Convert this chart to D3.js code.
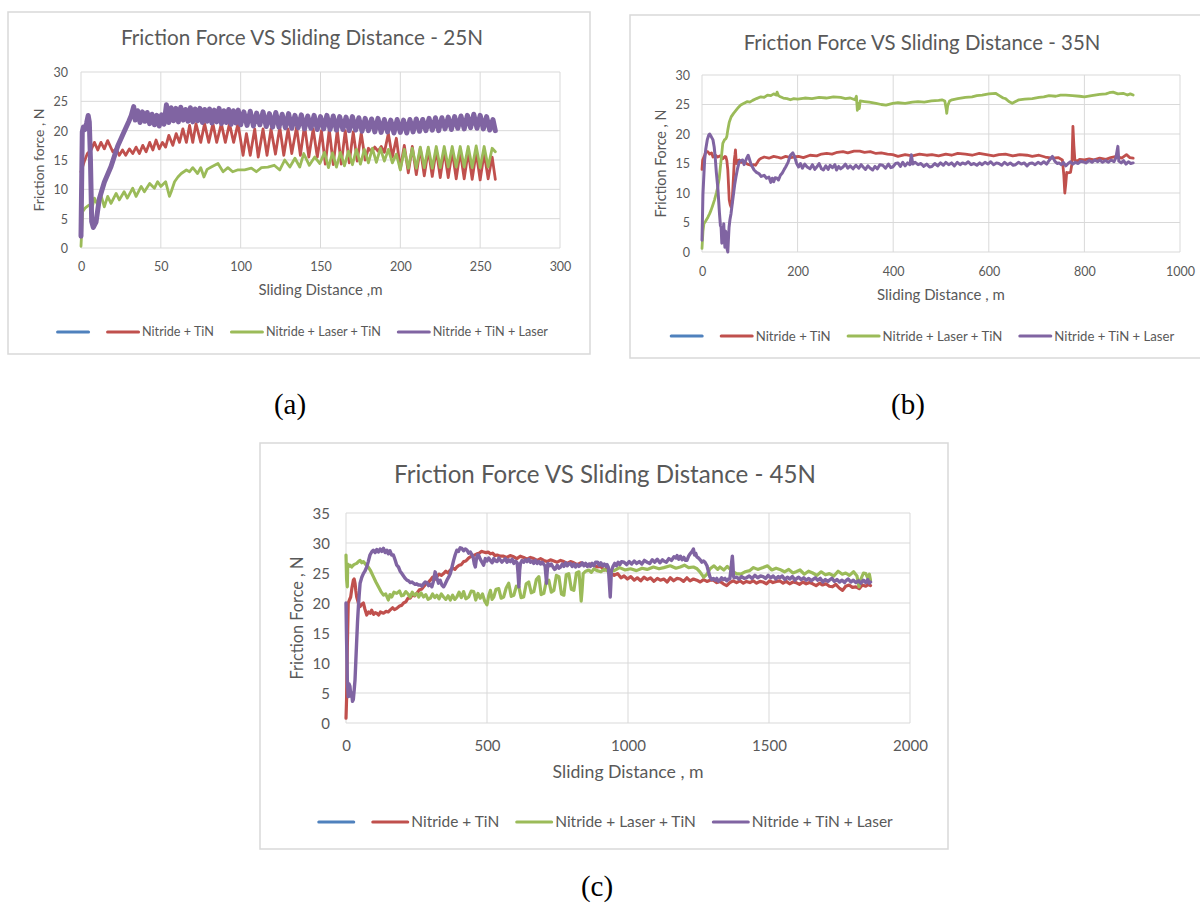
<!DOCTYPE html>
<html><head><meta charset="utf-8">
<script src="https://cdn.jsdelivr.net/npm/d3@7/dist/d3.min.js"></script>
<style>body{margin:0;background:#fff;}svg{display:block;}</style>
</head><body>
<svg id="chart" width="1200" height="906"></svg>
<script>
// ---------------- DATA ----------------
const seriesNames = ["", "Nitride + TiN", "Nitride + Laser + TiN", "Nitride + TiN + Laser"];

const aTitle = "Friction Force VS Sliding Distance - 25N";
const bTitle = "Friction Force VS Sliding Distance - 35N";
const cTitle = "Friction Force VS Sliding Distance - 45N";
const aXTitle = "Sliding Distance ,m", bXTitle = "Sliding Distance , m", cXTitle = "Sliding Distance , m";
const aYTitle = "Friction force , N", bYTitle = "Friction Force , N", cYTitle = "Friction Force , N";
const subLabels = ["(a)", "(b)", "(c)"];

const aXTicks = [0, 50, 100, 150, 200, 250, 300];
const aYTicks = [0, 5, 10, 15, 20, 25, 30];
const bXTicks = [0, 200, 400, 600, 800, 1000];
const bYTicks = [0, 5, 10, 15, 20, 25, 30];
const cXTicks = [0, 500, 1000, 1500, 2000];
const cYTicks = [0, 5, 10, 15, 20, 25, 30, 35];

// Panel (a) 25N
const aRed = [[0,13],[2,14.7],[4,16.1],[6.3,16.7],[8.4,18],[10.5,16.7],[12.5,18],[14.6,16.9],[16.7,18.3],[19.9,16.4],[22,16.9],[24,15.8],[26,16.7],[28,15.8],[30.3,16.9],[32.4,16.1],[34.5,17.2],[36.6,16.1],[38.7,17.5],[40.8,16.4],[43,18],[45,16.7],[47,18.4],[49,16.9],[51,18],[53,17.2],[55,19.2],[57.5,17.5],[59.6,19.5],[61.7,18],[63.8,20.3],[66,18],[68,20.9],[70,18],[72,21.2],[75,18],[77.4,21.2],[80,18],[82.6,21.2],[85,18],[87.9,21.2],[90.4,18],[93,21.2],[95.6,18],[98.3,21.2],[101.5,15.8],[103.6,19.5],[106,15.8],[108.8,20.3],[111,15.5],[114,20.3],[116.5,15.8],[119,20.3],[121.8,16],[124.5,20.6],[127,15.8],[129.7,20.3],[132,16.1],[135,20.6],[137.4,15.8],[140,20.9],[142.7,15.5],[145.4,20.3],[148,15.5],[150.6,20],[153,14.3],[155.5,20.2],[158,14.2],[160.5,20.1],[163,14.3],[165.5,20],[168,14.5],[170.5,19.8],[173,14.8],[175.5,19.6],[178,15],[180,17],[182,16.4],[184,17.2],[186,16.5],[188,17.3],[190,16.3],[192.5,19.5],[195,15.5],[197.5,18.7],[200,13.5],[202.5,17.5],[205,12.8],[207.5,17.3],[210,12.5],[212.5,17],[215,12.3],[217.5,16.8],[220,12.2],[222.5,16.8],[225,12],[227.5,16.6],[230,12],[232.5,16.5],[235,11.8],[237.5,16.5],[240,11.8],[242.5,16.4],[245,11.7],[247.5,16.3],[250,11.6],[252.5,16.2],[255,11.8],[257.5,15.5],[259.5,11.7]];
const aGreen = [[0,0.3],[1,6.2],[2.5,6.8],[5,7.3],[7,6.9],[8.4,8.5],[10.5,7.3],[12.5,9],[14.6,7],[16.7,8.8],[18.8,7.6],[22,9.3],[24,8.2],[27,9.6],[29,8.5],[32.4,10.2],[34.5,8.8],[37.7,10.5],[39.7,9.6],[43,11],[46,10.2],[48,11.3],[50,10.5],[53,11.3],[55.4,8.8],[56.5,9.6],[58.6,11.3],[60.7,12.1],[62.8,12.7],[66,13.3],[68,13],[70,13.7],[73,12.7],[75,13.7],[77,12.1],[79,13.4],[81.6,13.8],[85.8,14.4],[89,13],[92,13.7],[95,13],[98,13.3],[102.5,13.3],[106.7,13.6],[109.8,13],[113,13.7],[117,13.8],[121,14.1],[124.5,13.3],[127.6,15],[130.8,13.8],[134,15.3],[137,13.8],[139.5,16.1],[143,14.1],[146.4,15.5],[149.6,14.4],[152.5,16.3],[155,13.7],[157.5,16.2],[160,13.8],[162.5,16.3],[165,14],[167.5,16.5],[170,14.2],[172.5,16.8],[175,14.3],[177.5,16.8],[180,14.5],[182.5,17],[185,14.6],[187.5,17],[190,14.8],[192.5,16.8],[195,14.5],[197.5,16],[200,13.3],[202.5,16.8],[205,13.6],[207.5,17],[210,13.6],[212.5,17.2],[215,13.7],[217.5,17.2],[220,13.6],[222.5,17.3],[225,13.7],[227.5,17.3],[230,13.8],[232.5,17.3],[235,13.8],[237.5,17.3],[240,13.8],[242.5,17.3],[245,13.7],[247.5,17.4],[250,13.7],[252.5,17.3],[255,13.8],[257.5,17],[259.5,16.4]];
const aPurple = [[0,2],[0.8,19.8],[1.5,20.6],[2.5,20.2],[3.5,21.3],[4.5,22.6],[5.2,21.5],[5.9,15.3],[6.7,4.5],[7.7,3.5],[9.4,4.4],[11.5,8.4],[14.6,11.2],[18.8,13.9],[23,17.4],[27,19.8],[30,21.6],[31.5,22.6],[33,24.1],[34,21.8],[35.5,23.4],[37,21.4],[38.5,23.2],[40,21.6],[41.5,23.1],[43,21.2],[44.5,22.8],[46,21.0],[47.5,22.6],[49,20.8],[50.5,22.7],[52,21.1],[53.5,24.4],[55,21.4],[56.5,23.9],[58,21.7],[59.5,23.8],[61,21.5],[62.5,24.0],[64,21.8],[65.5,23.6],[67,21.6],[68.5,23.9],[70,21.5],[71.5,23.7],[73,21.7],[74.5,23.8],[76,21.4],[77.5,23.6],[79,21.6],[80.5,23.7],[82,21.3],[83.5,23.5],[85,21.5],[86.5,23.8],[88,21.2],[89.5,23.4],[91,21.4],[92.5,23.6],[94,21.1],[95.5,23.4],[97,21.3],[98.5,23.5],[100,21.0],[102,23.2],[104,20.9],[106,23.3],[108,20.8],[110,23.0],[112,21.0],[114,23.2],[116,20.7],[118,22.9],[120,20.6],[122,23.1],[124,20.6],[126,22.8],[128,20.5],[130,22.9],[132,20.4],[134,22.6],[136,20.5],[138,22.7],[140,20.3],[142,22.5],[144,20.4],[146,22.6],[148,20.2],[150,22.4],[152,20.3],[154,22.6],[156,20.2],[158,22.5],[160,20.1],[162,22.4],[164,20.2],[166,22.3],[168,20.0],[170,22.4],[172,20.1],[174,22.2],[176,19.9],[178,22.1],[180,20.0],[182,22.0],[184,19.8],[186,22.1],[188,19.7],[190,21.9],[192,19.8],[194,21.8],[196,19.6],[198,21.9],[200,19.7],[202,21.8],[204,19.6],[206,21.9],[208,19.8],[210,22.0],[212,19.9],[214,21.9],[216,20.0],[218,22.1],[220,20.1],[222,22.2],[224,20.0],[226,22.2],[228,20.3],[230,22.3],[232,20.2],[234,22.4],[236,20.4],[238,22.5],[240,20.3],[242,22.6],[244,20.5],[246,22.8],[248,20.4],[250,22.6],[252,20.3],[254,22.4],[256,20.1],[258,21.9],[259.5,20.0]];

// Panel (b) 35N
const bRed = [[0,14],[1.4,15.6],[5.5,16.4],[8,17],[12,17],[16,16.6],[20,16.8],[23,16.1],[28,16.4],[33,16.1],[38,16.3],[43.5,15.8],[48,16.2],[50,16.1],[52,15.5],[54,13.9],[56,10.5],[57,8.8],[59,8],[61,7.6],[63,8.5],[64,9.9],[66,13],[67.6,15.6],[69,16.5],[70,17.3],[71,16],[72,15],[75,15.5],[78,15.6],[82,15.2],[88,15.3],[95,14.9],[102,14.7],[108,14.8],[112,14.7],[116,15.2],[119,15.6],[124,15.9],[130,16.1],[140,15.9],[150,16.2],[157,16.1],[165,15.9],[175,16.2],[185,16],[192,16.1],[202,16.2],[212,16],[226,16.4],[240,16.3],[250,16.6],[261,16.7],[272,16.6],[283,16.9],[295,17],[305,16.8],[318,17.1],[330,17.1],[340,16.9],[352,17],[364,16.7],[375,16.8],[388,16.6],[399,16.5],[410,16.2],[425,16.5],[440,16.3],[455,16.6],[470,16.4],[481,16.5],[495,16.3],[510,16.6],[522,16.4],[535,16.7],[551,16.6],[565,16.4],[580,16.7],[595,16.5],[610,16.3],[621,16.5],[635,16.6],[650,16.3],[665,16.5],[680,16.4],[691,16.2],[705,16.4],[718,16.1],[733,15.9],[745,16],[754,15.6],[757,13],[759,10],[761,11.5],[763,13.5],[765,13.4],[771,13.5],[774,15],[776,21.3],[778,18],[780,15.6],[785,15.4],[790,15.7],[800,15.6],[810,15.8],[820,15.6],[832,15.9],[845,15.7],[855,16],[867,16.2],[878,15.9],[888,16.5],[895,16],[902,15.9]];
const bGreen = [[0,0.6],[2,3.5],[4,4.8],[8,5.3],[12.4,5.9],[16,6.5],[19,7.1],[22,7.8],[26,8.8],[30,10],[33,11],[36,12.5],[40,15.6],[43.5,18.4],[47,19],[50,19.2],[52,19.6],[54,20.7],[57,22],[61,22.9],[66,23.5],[71,24],[76,24.5],[81,24.9],[88,25.2],[95,25.5],[100,25.4],[106,25.7],[114,26],[123,26.3],[130,26.2],[137,26.6],[144,26.5],[150,26.8],[155,26.6],[157,27.1],[160,26.5],[164,26.3],[170,26.1],[178,26],[185,25.8],[192,26],[200,25.9],[215,26.1],[230,26],[245,26.2],[260,26.1],[275,26.3],[290,26.2],[300,26],[310,26.1],[320,25.8],[323,26.4],[325,24],[327,25.2],[329,24.3],[331,25.6],[340,25.5],[350,25.4],[364,25.2],[375,25],[385,24.9],[399,25.2],[410,25.3],[425,25.2],[440,25.4],[452,25.5],[465,25.4],[480,25.6],[495,25.7],[502,25.8],[508,25.6],[511,24.2],[512,23.5],[514,24.8],[518,25.6],[523,25.8],[535,26],[551,26.2],[565,26.3],[575,26.5],[586,26.6],[600,26.8],[614,26.9],[622,26.5],[630,26.1],[635,26],[642,25.5],[649,25.2],[656,25.5],[663,25.8],[675,25.9],[691,26],[705,26.2],[715,26.3],[726,26.5],[740,26.4],[750,26.6],[761,26.6],[775,26.5],[790,26.4],[800,26.3],[815,26.5],[832,26.7],[845,26.8],[852,27],[860,27.1],[870,26.8],[881,26.9],[890,26.6],[896,26.8],[902,26.6]];
const bPurple = [[0,2],[2,9.9],[5.5,15.6],[8,17.5],[11,19],[14,19.8],[16,20],[19,19.6],[23,19],[25.5,17.8],[27.6,16.1],[30,13.5],[33,11],[35,8.5],[36.6,6.5],[38.5,4.5],[40,4.2],[41.5,1.5],[43.5,2],[45.5,4.8],[47,1.8],[48,0.8],[49.5,3.5],[51,3.1],[52.5,0.5],[54,0],[55.5,2.5],[56.6,4.2],[58.5,5.5],[60.7,6.5],[63,8],[66,9.9],[68.5,11.5],[71,12.7],[74,14],[78,15.3],[82,15.5],[85,15.6],[88,14.8],[92,15.6],[94,16],[96.6,16.4],[99,15.8],[102,15],[105,14.5],[109,13.9],[114,13.5],[119,13.3],[124,12.8],[130,13],[135,12.5],[140,12.7],[144,11.8],[147,12.5],[150,11.9],[153,12.6],[157,12.5],[160,12.2],[164,13],[168,13.4],[172,14],[175,14.4],[180,15.2],[185,16.4],[190,16.8],[193,16.3],[195,15.8],[198,15],[202,14.4],[206,15],[210,14.2],[215,14.9],[220,14.4],[226,14.1],[231,14.8],[236,14],[240,14.4],[245,15],[250,14.1],[254,13.9],[259,14.6],[264,14],[268,14.7],[273,14.3],[278,14.8],[281.5,13.9],[286,14.5],[290,14.1],[295,14.4],[300,14.9],[305,14.2],[310,14.6],[316,14.1],[322,14.7],[328,14.2],[333,14.8],[337,14.4],[342,14],[347,14.6],[352,14.2],[357,13.9],[362,14.5],[367,14.1],[372,14.8],[378,14.7],[384,14.2],[390,14.9],[395,14.3],[399,14.4],[405,15],[410,15.1],[415,14.5],[420,15.2],[425,14.6],[430,15.1],[435,14.8],[438,16.5],[441,14.9],[446,15.2],[452,14.8],[458,15],[464,14.5],[470,14.9],[476,14.4],[481,14.5],[487,15],[493,14.6],[499,15.1],[505,14.7],[510,15.2],[516,14.8],[522,15.1],[528,14.6],[534,15.2],[540,14.8],[545,15.1],[551,14.9],[557,15.3],[563,14.8],[569,15],[575,14.7],[581,15.1],[586,14.8],[592,15.2],[598,14.9],[604,15.3],[610,14.8],[616,15.1],[621,15],[627,14.7],[633,15.2],[639,14.8],[645,15.1],[651,14.7],[656,14.8],[662,15.2],[668,14.9],[674,15.1],[680,14.6],[685,15],[691,15.1],[697,14.8],[703,15.2],[709,14.9],[715,15.3],[721,14.9],[727,15.6],[733,16.2],[738,15.4],[743,15],[747,15.1],[752,14.8],[756,15.2],[761,14.6],[766,15],[771,15.3],[776,14.9],[781,15.2],[787,15],[792,15.4],[797,15.3],[803,15.1],[810,15.5],[816,15.2],[822,15.6],[828,15.3],[832,15.6],[838,15.2],[844,15.5],[850,15.2],[856,15.6],[862,15.3],[866,16],[870,17.9],[872,15.4],[877,15.1],[882,15.5],[887,14.9],[892,15.3],[897,15],[902,15.1]];

// Panel (c) 45N
const cRed = [[0,0.8],[2,3.9],[4.7,12.7],[8,20],[12,20.5],[16.6,21],[21,22.5],[26,23.8],[29,24],[32,23.3],[35,22],[38,21],[44,20],[50,19.4],[56,19.8],[61.6,20],[67,19],[73.5,18],[80,18.5],[86,18.3],[91,18.8],[98,18.1],[104,18.4],[109,18.3],[116,18],[122,18.5],[133,18.3],[142,18.6],[150,18.5],[156,18.8],[165,19.2],[172,18.9],[180,19.1],[190,19.5],[197,19.6],[204,20],[212,20.2],[220,20.8],[227.5,20.8],[236,21.4],[243,21.2],[251,21.6],[260,22.2],[268,22.3],[275,22.7],[284,23.2],[291,23.4],[299,23.8],[307,24.3],[314,23.9],[322,24.4],[330,24.8],[338,24.6],[346,24.9],[354,25.3],[362,25],[370,25.5],[378,25.8],[386,25.6],[393,26],[401,26.3],[409,26.4],[417,26.9],[425,27],[433,27.4],[441,27.7],[449,27.9],[457,28],[464.5,28.2],[472,28.3],[480,28.6],[488,28.5],[496,28.4],[504,28.5],[512,28.2],[520,28.3],[528,27.9],[536,28],[547,27.8],[559,27.8],[570,27.6],[582,27.9],[595,27.7],[606,27.4],[618,27.8],[630,27.6],[642,27.3],[654,27.6],[666,27.4],[678,27.1],[690,27.4],[701.5,27.1],[713,26.9],[725,27.2],[737,27],[749,26.8],[761,27.1],[772.6,26.9],[784,26.6],[796,26.9],[808,26.7],[820,26.4],[832,26.7],[844,26.5],[856,26.2],[867,26.5],[879,26.3],[891,26],[903,26.1],[915,25.5],[927,25.8],[939,25],[951,24.6],[963,24.9],[975,24.2],[986,24.5],[998,24],[1010,24.4],[1022,23.8],[1033,24.2],[1045,23.7],[1057,24.3],[1068,23.9],[1080,24.2],[1092,23.6],[1104,24.1],[1115,23.8],[1127,24],[1139,23.5],[1150,24.2],[1162,23.7],[1174,24.1],[1185,24],[1197,23.6],[1209,24.2],[1220,23.7],[1232,24],[1244,23.8],[1256,23.5],[1268,23.9],[1280,23.6],[1291,23.8],[1303,23.8],[1315,23.4],[1326,23.6],[1338,23.2],[1350,22.9],[1361,23.4],[1373,23.7],[1385,23.4],[1397,23.7],[1409,23.3],[1420,23.6],[1432,23.4],[1444,23.7],[1456,23.3],[1468,23.6],[1479,23.5],[1491,23.2],[1503,23.7],[1514,23.4],[1526,23.6],[1538,23.7],[1550,23.3],[1561,23.6],[1573,23.2],[1585,23.5],[1596,23.4],[1608,23.1],[1620,23.5],[1632,23.2],[1644,23.4],[1655,23.2],[1667,22.9],[1679,23.3],[1690,23],[1702,23.2],[1714,22.8],[1725,22.7],[1737,23.1],[1749,22.5],[1761,22.1],[1772,22.8],[1784,23],[1796,22.6],[1808,22.7],[1820,22.4],[1831,23],[1843,22.8],[1852,23.1],[1860,22.9]];
const cGreen = [[0,28],[2,24],[4.7,22.7],[6,26.5],[8,26],[14,26.3],[20,26],[28,26.4],[38,26.6],[44,26.9],[50,27.1],[56,26.7],[61.6,26.9],[70,26.4],[79,26],[88,25.3],[97,24.4],[106,23.5],[115,22.7],[124,21.9],[133,21.3],[141,21.5],[150,20.5],[156,21.4],[162,21],[170,21.8],[180,21.6],[190,22],[197,21.2],[204,21.3],[212,21.9],[220,21.5],[227.5,21],[235,21.8],[243,21.3],[251,21.6],[258,21],[266,21.7],[275,21],[283,21.4],[291,20.6],[299,20.8],[307,21.5],[315,20.9],[322,21.3],[330,20.7],[338,21.5],[346,21],[354,20.6],[362,21.2],[370,20.5],[378,21.3],[386,20.6],[393,21],[401,21.8],[409,20.9],[417,21.9],[425,20.7],[435,21],[444,22],[453,21.9],[460,20.5],[468,21.6],[476,20.8],[484,21.5],[492,20.3],[500,19.7],[506,21.2],[512,22.1],[518,20.6],[524,21],[532,22.3],[541.5,22.4],[550,20.8],[559,21],[568,22.5],[577,23.3],[586,21.1],[595,21.3],[604,22.8],[613,22.7],[621,20.9],[630,21],[639,23.2],[648,23.5],[657,21.7],[666,21.9],[675,23.9],[684,24.4],[692,21.4],[701.5,21.6],[710,23.6],[719,23.8],[728,21.8],[737,22.1],[746,24.6],[755,24.4],[764,21.5],[772.6,21.3],[781,24.7],[790,24.9],[799,22.3],[808,22.1],[817,25],[826,25.2],[830,23],[834,20.3],[837,22],[841,24.9],[850,25.3],[861,25.5],[870,25.1],[879,25.7],[890,25.4],[904,25.2],[915,25.6],[930,25.3],[951,25.4],[970,25.9],[990,25.5],[1009,25.7],[1030,25.4],[1050,25.8],[1068,25.6],[1090,26],[1110,25.7],[1127,25.9],[1150,26.2],[1170,25.8],[1185,26],[1200,26.3],[1215,25.9],[1232,26],[1245,25.7],[1255,25.2],[1268,24.3],[1280,24.8],[1291,25.7],[1305,26.2],[1318,25.6],[1326,26],[1340,25.5],[1352,26.1],[1361,25.7],[1372,25.2],[1385,24.9],[1400,24.8],[1415,25.2],[1432,25.4],[1445,25.9],[1460,25.6],[1479,25.9],[1495,26.2],[1510,25.5],[1525,25.8],[1538,25.6],[1555,25.2],[1570,25.6],[1585,25],[1596,25.2],[1610,25.5],[1625,24.8],[1640,25.3],[1655,25],[1670,24.6],[1685,25.2],[1700,24.7],[1714,24.9],[1730,24.5],[1745,25.3],[1760,24.8],[1772,25],[1785,24.6],[1800,25.2],[1812,24.5],[1819,22.7],[1826,24],[1835,25],[1843,24.9],[1850,24.2],[1856,24.8],[1860,23.8]];
const cPurple = [[0,20],[2,14],[4.7,7.2],[8,4.4],[11,6.5],[14,6.1],[17,4.5],[20,5],[23,3.6],[26,3.9],[29,5.5],[32,7.2],[35,10.5],[38,13.8],[41,17],[44,19.4],[47,21.5],[50,23.3],[56,24.3],[61.6,24.9],[67,25.3],[73.5,26],[79,26.9],[85,28],[91,28.5],[97,28.8],[103,28.4],[109,28.9],[115,28.5],[121,29],[127,28.6],[133,29.1],[139,28.4],[145,28.8],[150,28.2],[156,28.7],[162,28],[168,28],[174,27.2],[180,26.3],[186,26],[192,25.3],[198,24.9],[204,24.5],[210,24.1],[216,23.8],[222,23.7],[228,23.4],[234,23.5],[239,23.3],[245,23.1],[251,23.2],[257,23],[263,23],[269,22.8],[275,23.2],[281,23.5],[287,23.4],[293,22.9],[299,23.1],[304.5,22.7],[310,23.6],[316,25.2],[322,24.2],[328,23.3],[334,23.8],[340,23],[346,22.7],[352,23.2],[358,23.8],[364,24.3],[370,24.9],[376,26],[381.6,27.1],[387,28],[393,28.8],[399,28.6],[405,29.2],[411,29.1],[417,28.7],[423,29],[429,28.8],[435,28.3],[441,28.5],[447,28],[451,27.6],[455,26.5],[458.6,26],[462,27.2],[466,28],[470,28],[476,27.3],[482,26.8],[488,26.3],[494,27.4],[500,27],[506,27.5],[512,27.1],[518,26.7],[524,27.4],[530,27],[536,26.9],[542,27.5],[548,27.1],[553,26.8],[559,27.1],[565,27.4],[571,26.8],[577,27.2],[583,26.9],[589,27.3],[595,26.6],[601,27],[607,26.7],[610,25],[613,22.7],[616,25.5],[618.6,26.6],[624,27.1],[630,26.8],[636,27.2],[642,26.9],[648,27.3],[654,26.8],[660,27],[666,26.6],[672,27.1],[678,26.6],[684,26.9],[690,26.5],[696,26.8],[702,26.4],[706,26.2],[709,24.5],[711,23.3],[713,25],[716,26.6],[722,26.2],[728,26.5],[734,26],[740,25.6],[743,25.7],[749,26.3],[755,25.8],[761,26],[767,26.5],[773,26.1],[779,26.7],[785,26.2],[791,26.6],[796,26.6],[802,26.1],[808,26.5],[814,26],[820,26.4],[826,26.1],[832,26.3],[838,26.7],[844,26.2],[850,26.6],[856,26.1],[862,26.5],[867,26.1],[873,26.6],[879,26.2],[885,26.8],[892,26.8],[898,26.3],[904,26.7],[910,26.2],[916,26.5],[922,26.1],[926,26.4],[930,26],[933,24],[935,22.5],[937,21],[939,23],[941,25.4],[947,26.1],[953,26.6],[959,26.2],[965,26.8],[971,26.4],[977,26.9],[986,26.8],[995,26.4],[1004,26.9],[1013,26.5],[1022,27],[1031,26.6],[1040,26.9],[1049,26.5],[1058,27.1],[1068,26.8],[1077,26.6],[1086,27.2],[1095,26.8],[1104,27.3],[1113,26.7],[1122,27.2],[1127,27],[1136,26.8],[1145,27.4],[1154,27.1],[1163,27.7],[1170,27.5],[1174,27.9],[1180,27.3],[1186,27.8],[1192,27.2],[1198,27.6],[1204,27.1],[1209,27.1],[1215,27.8],[1220,28.2],[1226,28.5],[1232,29],[1236,28],[1240,28.3],[1244,27.7],[1250,27.5],[1256,27.2],[1262,26.8],[1268,27],[1273,26.8],[1280,26.2],[1285,25.3],[1291,24.3],[1297,23.9],[1303,24.1],[1309,23.8],[1315,24.1],[1320,23.6],[1326,23.8],[1332,24.2],[1338,23.9],[1344,24.1],[1350,23.7],[1356,24],[1361,24],[1365,25.5],[1368,27],[1370,27.8],[1372,26.5],[1374,24.5],[1376,24.2],[1385,24.3],[1394,24],[1403,24.4],[1412,24.1],[1420,24.2],[1430,24.5],[1440,24.1],[1450,24.6],[1460,24.2],[1470,24.5],[1479,24.4],[1488,24.1],[1497,24.6],[1506,24.2],[1515,24.5],[1524,24],[1533,24.4],[1538,24.2],[1547,24.5],[1556,23.9],[1565,24.3],[1574,24],[1583,24.4],[1592,23.8],[1596,24],[1605,24.3],[1614,23.9],[1623,24.2],[1632,23.8],[1641,24.1],[1650,23.7],[1655,23.9],[1664,24.2],[1673,23.8],[1682,24.1],[1691,23.5],[1700,23.9],[1709,23.6],[1714,23.8],[1723,24.1],[1732,23.6],[1741,23.9],[1750,23.5],[1759,23.8],[1768,23.4],[1772,23.7],[1781,24],[1790,23.5],[1799,23.8],[1808,23.4],[1817,23.7],[1826,23.3],[1835,23.8],[1843,23.4],[1850,23.9],[1855,23.3],[1860,23.5]];

// ---------------- STYLE / LAYOUT ----------------
const colors = ["#4F81BD", "#C0504D", "#9BBB59", "#8064A2"];
const FONT = "Lato, 'Open Sans', sans-serif";
const TEXT = "#595959";
const GRID = "#d9d9d9";

const svg = d3.select("#chart");
svg.append("rect").attr("width", 1200).attr("height", 906).attr("fill", "#fff");

const measurer = svg.append("text").attr("font-family", FONT).attr("x", -1000).attr("y", -1000);
function fit(text, target) {
  measurer.text(text).attr("font-size", 100);
  const w = measurer.node().getComputedTextLength();
  return 100 * target / w;
}

const panels = [
  { frame: [8, 12, 582, 342], plot: { l: 81, r: 560, t: 72, b: 248 }, xd: [0, 300], yd: [0, 30],
    xt: aXTicks, yt: aYTicks, title: aTitle, xTitle: aXTitle, yTitle: aYTitle,
    series: [[], aRed, aGreen, aPurple], widths: [3, 2.8, 2.8, 5],
    cx: 302, titleY: 45, titleW: 362, tickFs: 12.5, tickLabelY: 271, yTickX: 68,
    xTitleY: 295, xTitleW: 124, yTitleX: 39, yTitleW: 103, legY: 332, legW: 72, legLine: 34,
    sub: subLabels[0], subX: 290, subY: 414 },
  { frame: [630, 15, 580, 343], plot: { l: 702, r: 1180, t: 75, b: 252 }, xd: [0, 1000], yd: [0, 30],
    xt: bXTicks, yt: bYTicks, title: bTitle, xTitle: bXTitle, yTitle: bYTitle,
    series: [[], bRed, bGreen, bPurple], widths: [3, 2.8, 2.8, 3],
    cx: 922, titleY: 50, titleW: 357, tickFs: 12.5, tickLabelY: 276, yTickX: 690,
    xTitleY: 300, xTitleW: 128, yTitleX: 661, yTitleW: 108, legY: 336, legW: 75, legLine: 34,
    sub: subLabels[1], subX: 908, subY: 414 },
  { frame: [260, 443, 688, 406], plot: { l: 346, r: 910, t: 513, b: 723 }, xd: [0, 2000], yd: [0, 35],
    xt: cXTicks, yt: cYTicks, title: cTitle, xTitle: cXTitle, yTitle: cYTitle,
    series: [[], cRed, cGreen, cPurple], widths: [3.5, 3.2, 3.2, 3.4],
    cx: 605, titleY: 483, titleW: 422, tickFs: 15, tickLabelY: 751, yTickX: 330,
    xTitleY: 778, xTitleW: 151, yTitleX: 297, yTitleW: 123, legY: 822, legW: 88, legLine: 38,
    sub: subLabels[2], subX: 597, subY: 896 }
];

panels.forEach(p => {
  const g = svg.append("g");
  g.append("rect").attr("x", p.frame[0]).attr("y", p.frame[1]).attr("width", p.frame[2]).attr("height", p.frame[3])
    .attr("fill", "#fff").attr("stroke", GRID).attr("stroke-width", 1.5);

  const x = d3.scaleLinear().domain(p.xd).range([p.plot.l, p.plot.r]);
  const y = d3.scaleLinear().domain(p.yd).range([p.plot.b, p.plot.t]);

  // gridlines
  g.append("g").selectAll("line").data(p.yt).join("line")
    .attr("x1", p.plot.l).attr("x2", p.plot.r).attr("y1", d => y(d)).attr("y2", d => y(d))
    .attr("stroke", GRID).attr("stroke-width", 1);
  g.append("g").selectAll("line").data(p.xt).join("line")
    .attr("y1", p.plot.t).attr("y2", p.plot.b).attr("x1", d => x(d)).attr("x2", d => x(d))
    .attr("stroke", GRID).attr("stroke-width", 1);

  // axes via d3
  const xAxis = d3.axisBottom(x).tickValues(p.xt).tickSize(0).tickPadding(0).tickFormat(d3.format("d"));
  const xa = g.append("g").attr("transform", `translate(0,${p.tickLabelY})`).call(xAxis);
  xa.select(".domain").remove();
  xa.selectAll("text").attr("fill", TEXT).attr("font-family", FONT).attr("font-size", p.tickFs).attr("dy", 0);

  const yAxis = d3.axisLeft(y).tickValues(p.yt).tickSize(0).tickPadding(0).tickFormat(d3.format("d"));
  const ya = g.append("g").attr("transform", `translate(${p.yTickX},0)`).call(yAxis);
  ya.select(".domain").remove();
  ya.selectAll("text").attr("fill", TEXT).attr("font-family", FONT).attr("font-size", p.tickFs).attr("dy", "0.35em");

  // series lines
  const line = d3.line().x(d => x(d[0])).y(d => y(d[1]));
  p.series.forEach((s, i) => {
    if (!s.length) return;
    g.append("path").datum(s).attr("d", line).attr("fill", "none")
      .attr("stroke", colors[i]).attr("stroke-width", p.widths[i])
      .attr("stroke-linejoin", "round").attr("stroke-linecap", "round");
  });

  // titles
  g.append("text").attr("x", p.cx).attr("y", p.titleY).attr("text-anchor", "middle")
    .attr("font-family", FONT).attr("fill", TEXT).attr("font-size", fit(p.title, p.titleW)).text(p.title);
  g.append("text").attr("x", (p.plot.l + p.plot.r) / 2).attr("y", p.xTitleY).attr("text-anchor", "middle")
    .attr("font-family", FONT).attr("fill", TEXT).attr("font-size", fit(p.xTitle, p.xTitleW)).text(p.xTitle);
  g.append("text").attr("transform", `translate(${p.yTitleX},${(p.plot.t + p.plot.b) / 2}) rotate(-90)`)
    .attr("text-anchor", "middle").attr("dy", "0.35em")
    .attr("font-family", FONT).attr("fill", TEXT).attr("font-size", fit(p.yTitle, p.yTitleW)).text(p.yTitle);

  // legend
  const lfs = fit(seriesNames[1], p.legW);
  const widths = seriesNames.map(n => { if (!n) return 0; measurer.text(n).attr("font-size", lfs); return measurer.node().getComputedTextLength(); });
  const gapText = 2, gapItem = 16;
  const itemW = widths.map(w => p.legLine + (w ? gapText + w : 0));
  const total = d3.sum(itemW) + gapItem * (itemW.length - 1);
  let cur = p.cx - total / 2;
  const lg = g.append("g");
  seriesNames.forEach((n, i) => {
    lg.append("line").attr("x1", cur + 1.5).attr("x2", cur + p.legLine - 1.5).attr("y1", p.legY).attr("y2", p.legY)
      .attr("stroke", colors[i]).attr("stroke-width", 3).attr("stroke-linecap", "round");
    if (n) lg.append("text").attr("x", cur + p.legLine + gapText).attr("y", p.legY).attr("dy", "0.35em")
      .attr("font-family", FONT).attr("fill", TEXT).attr("font-size", lfs).text(n);
    cur += itemW[i] + gapItem;
  });

  // sub-figure label
  svg.append("text").attr("x", p.subX).attr("y", p.subY).attr("text-anchor", "middle")
    .attr("font-family", "'Liberation Serif', 'Times New Roman', serif").attr("font-size", 29)
    .attr("fill", "#000").text(p.sub);
});
measurer.remove();
</script>
</body></html>
